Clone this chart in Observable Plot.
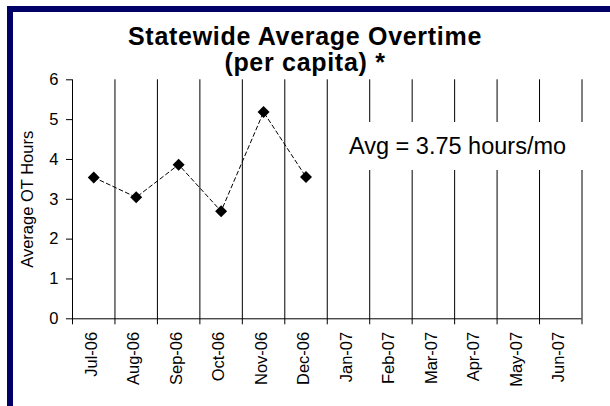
<!DOCTYPE html>
<html><head><meta charset="utf-8">
<script src="https://cdn.jsdelivr.net/npm/d3@7"></script>
<script src="https://cdn.jsdelivr.net/npm/@observablehq/plot@0.6"></script>
<style>
body{margin:0;background:#fff;}
#wrap{position:relative;width:610px;height:406px;overflow:hidden;font-family:"Liberation Sans",Arial,sans-serif;background:#fff;}
#chart{position:absolute;left:0;top:0;}
.bt{position:absolute;left:7px;top:6px;width:603px;height:6px;background:#000066;}
.bl{position:absolute;left:7px;top:6px;width:5.5px;height:400px;background:#000066;}
#title{position:absolute;left:0;top:23.3px;width:610px;text-align:center;font-weight:bold;font-size:25px;line-height:26px;letter-spacing:0.7px;color:#000;}
#avg{position:absolute;left:335px;top:122.4px;width:255px;height:48px;box-sizing:border-box;padding-left:14px;background:#fff;font-size:23.5px;line-height:48px;white-space:nowrap;color:#000;}
</style></head><body>
<div id="wrap">
<div id="chart"></div>
<div class="bt"></div><div class="bl"></div>
<div id="title"></div>
<div id="avg"></div>
</div>
<script>
const titleLines = ["Statewide Average Overtime", "(per capita) *"];
const yLabel = "Average OT Hours";
const avgNote = "Avg = 3.75 hours/mo";
const months = ["Jul-06","Aug-06","Sep-06","Oct-06","Nov-06","Dec-06","Jan-07","Feb-07","Mar-07","Apr-07","May-07","Jun-07"];
const values = [3.55, 3.05, 3.87, 2.70, 5.19, 3.56];
const yTicks = [0, 1, 2, 3, 4, 5, 6];

document.getElementById("title").innerHTML = titleLines.join("<br>");
document.getElementById("avg").textContent = avgNote;

const data = values.map((v, i) => ({month: months[i], idx: i + 0.5, value: v}));
const font = '"Liberation Sans", Arial, sans-serif';

const chart = Plot.plot({
  width: 610, height: 406,
  marginLeft: 72, marginRight: 28.5, marginTop: 79.3, marginBottom: 87.7,
  style: {fontFamily: font, fontSize: "16.5px", color: "#000", background: "transparent", overflow: "visible"},
  x: {domain: [0, months.length]},
  y: {domain: [0, 6]},
  marks: [
    Plot.ruleX(d3.range(months.length + 1), {stroke: "#000", strokeWidth: 1, insetBottom: -6}),
    Plot.ruleY([0], {stroke: "#000", strokeWidth: 1}),
    Plot.axisY(yTicks, {tickSize: 6, tickPadding: 8, label: null, stroke: "#000"}),
    Plot.axisX(months.map((m, i) => i + 0.5), {tickFormat: d => months[Math.floor(d)], tickSize: 0, tickPadding: 13, tickRotate: -90, label: null, dx: -2}),
    Plot.line(data, {x: "idx", y: "value", stroke: "#000", strokeWidth: 1, strokeDasharray: "4,3"}),
    Plot.dot(data, {x: "idx", y: "value", symbol: "diamond2", r: 5.4, fill: "#000", stroke: "none"}),
    Plot.text([yLabel], {frameAnchor: "left", rotate: -90, dx: -44.3, fontSize: 16.5, fill: "#000", textAnchor: "middle"})
  ]
});
document.getElementById("chart").appendChild(chart);
</script>
</body></html>
